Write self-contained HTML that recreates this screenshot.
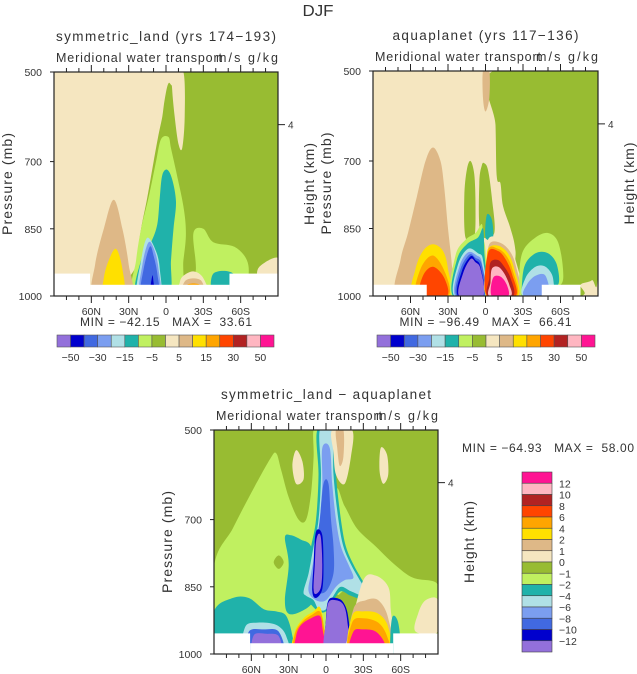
<!DOCTYPE html>
<html><head><meta charset="utf-8">
<style>
html,body{margin:0;padding:0;background:#fff;}
svg{display:block;font-family:"Liberation Sans",sans-serif;}
text{fill:#333;white-space:pre;}
</style></head>
<body>
<svg id="chart" width="637" height="674" viewBox="0 0 637 674" xmlns="http://www.w3.org/2000/svg">
<text x="318" y="16" font-size="16" text-anchor="middle" textLength="31" lengthAdjust="spacingAndGlyphs">DJF</text>
</svg>
<script>
const palette=["#9370db","#0000cd","#4169e1","#7b9ef0","#b0e0e6","#20b2aa","#c0f060","#98bc32","#f5e6c0","#deb887","#ffe000","#ffa500","#ff4500","#b22222","#ffb6c1","#ff1493"];
const xTickLats=[60,30,0,-30,-60];
const xTickLabels=["60N","30N","0","30S","60S"];
const pTicks=[500,700,850,1000];
const barLabels1=["-50","-30","-15","-5","5","15","30","50"];
const barLabels3=["12","10","8","6","4","2","1","0","-1","-2","-4","-6","-8","-10","-12"];

const shapes1=[
[7,[[-14,500],[-90,500],[-90,1000],[26,1000],[24,930],[20,850],[15,780],[10,700],[6,640],[3,600],[1,560],[-2,525],[-6,530]]],
[8,[[-5,500],[-14,500],[-15,600],[-13,670],[-10,660],[-7,600],[-5,540]]],
[6,[[-2,645],[4,650],[8,700],[14,780],[20,850],[24,920],[26,1000],[-10,1000],[-14,920],[-16,860],[-14,800],[-8,720],[-4,670]]],
[6,[[-22,860],[-30,850],[-38,880],[-55,890],[-65,920],[-66,960],[-60,1000],[-20,1000],[-24,940]]],
[8,[[-75,935],[-90,915],[-90,965],[-75,962]]],
[5,[[-1,718],[3,730],[5,780],[7,840],[12,880],[20,920],[24,1000],[-2,1000],[-4,920],[-6,850],[-8,790],[-5,740]]],
[4,[[15,870],[20,920],[23,1000],[5,1000],[5,940],[8,900]]],
[3,[[14,880],[19,930],[21,1000],[5,1000],[6,940],[9,900]]],
[2,[[13,890],[18,940],[20,1000],[6,1000],[7,950],[10,910]]],
[1,[[11,955],[13,1000],[9,1000],[10,970]]],
[9,[[42,785],[50,850],[57,930],[58,1000],[28,1000],[30,930],[35,850]]],
[10,[[40,895],[46,920],[50,960],[50,1000],[34,1000],[35,940]]],
[8,[[-14,955],[-22,945],[-30,960],[-33,1000],[-10,1000],[-11,970]]],
[9,[[-16,965],[-28,965],[-30,1000],[-13,1000]]],
[11,[[-17,975],[-27,975],[-28,1000],[-15,1000]]],
[12,[[-19,985],[-25,985],[-26,1000],[-17,1000]]],
[5,[[-38,950],[-54,950],[-55,1000],[-38,1000]]]
];
const masks1=[[90,61,950],[61,-51,975],[-51,-90,950]];

const shapes2=[
[7,[[-6,500],[-90,500],[-90,940],[-85,965],[-76,975],[-76,1000],[-26,1000],[-24,900],[-20,850],[-14,800],[-12,750],[-9,735],[-8,620]]],
[7,[[16,870],[17,780],[15,720],[12,700],[9,730],[8,800],[9,870]]],
[7,[[4,860],[5,750],[3,710],[1,705],[-2,720],[-5,780],[-7,860]]],
[9,[[2,500],[-3,500],[-3,560],[0,590],[2,560]]],
[9,[[42,670],[48,700],[55,780],[62,860],[68,920],[70,1000],[26,1000],[27,930],[30,850],[33,760],[36,700]]],
[10,[[42,885],[50,900],[56,940],[58,1000],[29,1000],[30,940],[34,900]]],
[11,[[42,910],[52,940],[55,1000],[30,1000],[32,950]]],
[12,[[42,935],[50,955],[52,1000],[31,1000],[33,960]]],
[6,[[3,840],[8,860],[16,875],[24,910],[27,1000],[0,1000],[0,900],[2,870]]],
[5,[[2,850],[6,870],[15,885],[23,920],[26,1000],[1,1000],[1,900]]],
[5,[[-1,820],[-5,830],[-6,870],[0,870]]],
[4,[[14,895],[22,930],[25,1000],[1,1000],[2,920],[6,905]]],
[3,[[14,903],[21,935],[24,1000],[1,1000],[3,925],[7,910]]],
[2,[[13,908],[20,940],[23,1000],[1,1000],[3,930],[8,915]]],
[1,[[12,912],[19,945],[22,1000],[2,1000],[4,935],[8,920]]],
[0,[[12,918],[18,950],[21,1000],[2,1000],[4,940],[8,925]]],
[8,[[-2,875],[-8,868],[-16,880],[-24,920],[-28,1000],[-1,1000],[-1,920]]],
[9,[[-3,885],[-10,880],[-18,895],[-24,930],[-27,1000],[-1,1000],[-1,930]]],
[10,[[-2,895],[-10,888],[-18,905],[-23,940],[-26,1000],[-1,1000],[-1,935]]],
[11,[[-2,900],[-10,895],[-17,912],[-22,945],[-25,1000],[-1,1000]]],
[12,[[-2,905],[-10,900],[-16,918],[-21,950],[-24,1000],[-1,1000]]],
[13,[[-4,925],[-10,920],[-15,935],[-20,960],[-22,1000],[-2,1000],[-3,960]]],
[14,[[-5,940],[-10,935],[-15,950],[-19,975],[-20,1000],[-3,1000],[-4,970]]],
[15,[[-6,960],[-12,957],[-17,975],[-18,1000],[-5,1000]]],
[6,[[-30,900],[-40,870],[-50,860],[-58,880],[-62,940],[-60,975],[-45,975],[-30,1000],[-28,1000],[-27,950]]],
[5,[[-31,935],[-40,905],[-50,905],[-57,930],[-58,975],[-45,975],[-32,1000],[-29,1000]]],
[4,[[-32,960],[-40,935],[-48,935],[-54,960],[-52,1000],[-30,1000]]],
[3,[[-33,975],[-40,955],[-48,955],[-50,1000],[-31,1000]]]
];
const masks2=[[90,47,975],[-45,-76,975]];

const shapes3=[
[6,[[90,805],[75,720],[60,640],[45,565],[40,552],[36,590],[30,650],[22,700],[16,700],[12,640],[10,560],[10,500],[4,500],[2,600],[0,800],[0,1000],[90,1000]]],
[7,[[38,780],[42,795],[38,810],[34,795]]],
[8,[[24,545],[27,580],[24,620],[18,610],[19,570]]],
[6,[[-8,640],[-15,670],[-25,720],[-40,760],[-55,800],[-70,830],[-88,840],[-90,870],[-90,950],[-60,955],[-50,960],[-40,900],[-30,870],[-15,860],[-8,850]]],
[5,[[90,905],[75,875],[62,875],[50,900],[40,905],[32,915],[27,960],[27,1000],[90,1000]]],
[5,[[33,740],[28,735],[20,745],[12,760],[8,820],[10,880],[20,905],[30,910],[33,880],[30,800]]],
[5,[[7,500],[-7,500],[-8,600],[-12,700],[-16,760],[-22,800],[-28,830],[-33,855],[-32,880],[-20,870],[-12,860],[-6,880],[0,905],[6,905],[12,890],[18,875],[20,860],[16,820],[12,760],[8,700],[6,600]]],
[4,[[5,500],[-5,500],[-6,600],[-10,700],[-14,760],[-20,800],[-26,830],[-30,850],[-30,870],[-20,860],[-12,850],[-6,870],[0,900],[6,900],[10,880],[16,870],[18,860],[14,820],[10,760],[6,700],[4,600]]],
[3,[[3,540],[-3,540],[-5,620],[-8,700],[-12,760],[-18,800],[-22,830],[-15,835],[-8,850],[0,880],[8,880],[14,860],[12,820],[8,760],[5,700],[3,620]]],
[2,[[2,620],[-2,620],[-4,700],[-6,760],[-6,820],[0,860],[8,860],[10,820],[8,760],[5,700]]],
[1,[[7,722],[3,735],[2,800],[3,855],[8,875],[11,860],[10,800],[9,745]]],
[0,[[6,732],[4,742],[3,800],[4,850],[8,866],[10,855],[9,800],[8,750]]],
[10,[[5,895],[10,905],[18,920],[25,950],[26,1000],[1,1000],[2,930]]],
[11,[[5,905],[11,912],[19,928],[25,955],[25,1000],[1,1000],[2,935]]],
[15,[[5,915],[12,920],[20,935],[24,960],[24,1000],[2,1000],[3,940]]],
[1,[[-2,880],[-8,875],[-14,885],[-18,920],[-19,1000],[0,1000],[0,920]]],
[0,[[-2,885],[-8,880],[-14,890],[-17,925],[-18,1000],[1,1000],[0,925]]],
[8,[[-30,835],[-40,825],[-50,850],[-52,900],[-53,1000],[-18,1000],[-20,940]]],
[9,[[-22,900],[-32,880],[-42,880],[-50,920],[-52,1000],[-19,1000]]],
[10,[[-21,915],[-30,905],[-42,910],[-50,940],[-51,1000],[-19,1000]]],
[11,[[-21,930],[-30,920],[-42,930],[-49,960],[-50,1000],[-19,1000]]],
[15,[[-22,950],[-30,945],[-40,950],[-47,975],[-47,1000],[-20,1000]]],
[4,[[65,940],[55,930],[40,935],[32,960],[32,1000],[65,1000]]],
[2,[[62,950],[50,945],[38,950],[35,1000],[62,1000]]],
[0,[[58,958],[48,955],[38,960],[37,1000],[58,1000]]],
[5,[[-53,920],[-58,930],[-60,1000],[-52,1000]]],
[8,[[-5,500],[-21,500],[-20,560],[-15,620],[-8,600],[-6,550]]],
[9,[[-8,500],[-14,500],[-14,560],[-11,580],[-9,540]]],
[8,[[-44,540],[-49,555],[-50,600],[-46,620],[-43,590]]],
[8,[[-80,880],[-90,880],[-90,950],[-72,950],[-74,910]]]
];
const masks3=[[90,61,954],[61,-54,976],[-54,-90,954]];

const NS="http://www.w3.org/2000/svg";
const svg=document.getElementById("chart");
function mk(tag,attrs,parent){const e=document.createElementNS(NS,tag);for(const k in attrs)e.setAttribute(k,attrs[k]);(parent||svg).appendChild(e);return e;}
function txt(s,attrs,parent){const e=mk("text",attrs,parent);e.textContent=s;return e;}
function fit(len){return {textLength:len,lengthAdjust:"spacing"};}
function smooth(pts){
  const n=pts.length;let d="M"+pts[0][0].toFixed(1)+","+pts[0][1].toFixed(1);
  for(let i=0;i<n;i++){
    const p0=pts[(i-1+n)%n],p1=pts[i],p2=pts[(i+1)%n],p3=pts[(i+2)%n];
    const c1=[p1[0]+(p2[0]-p0[0])/6,p1[1]+(p2[1]-p0[1])/6];
    const c2=[p2[0]-(p3[0]-p1[0])/6,p2[1]-(p3[1]-p1[1])/6];
    d+="C"+c1[0].toFixed(1)+","+c1[1].toFixed(1)+" "+c2[0].toFixed(1)+","+c2[1].toFixed(1)+" "+p2[0].toFixed(1)+","+p2[1].toFixed(1);
  }
  return d+"Z";
}
let clipId=0;
function panel(cfg){
  const {x0,y0,w,h,bg,shapes,masks,name}=cfg;
  const X=lat=>x0+(90-lat)/180*w;
  const Y=p=>y0+(p-500)/500*h;
  const g=mk("g",{});
  
  
  const cid="clip"+(clipId++);
  const cp=mk("clipPath",{id:cid},g);mk("rect",{x:x0,y:y0,width:w,height:h},cp);
  const inner=mk("g",{"clip-path":"url(#"+cid+")"},g);
  mk("rect",{x:x0,y:y0,width:w,height:h,fill:bg},inner);
  shapes.forEach(s=>{
    const pth=mk("path",{d:smooth(s[1].map(q=>[X(q[0]),Y(q[1])])),fill:palette[s[0]]},inner);
    
    
  });
  masks.forEach(m=>{
    const r=mk("rect",{x:X(m[0]),y:Y(m[2]),width:X(m[1])-X(m[0]),height:Y(1000)-Y(m[2]),fill:"#fff"},inner);
    
    
  });
  const fr=mk("rect",{x:x0,y:y0,width:w,height:h,fill:"none",stroke:"#222","stroke-width":1.2},g);
  
  
  for(let lat=80;lat>=-80;lat-=10){
    const major=lat%30===0;
    const len=major?7:4;const xx=X(lat);
    mk("line",{x1:xx,x2:xx,y1:y0,y2:y0-len,stroke:"#222"},g);
    mk("line",{x1:xx,x2:xx,y1:y0+h,y2:y0+h+len,stroke:"#222"},g);
  }
  xTickLats.forEach((lat,i)=>{
    const t=txt(xTickLabels[i],{x:X(lat),y:y0+h+19,"font-size":10.5,"text-anchor":"middle"},g);
    
    
  });
  pTicks.forEach(p=>{
    mk("line",{x1:x0,x2:x0-4,y1:Y(p),y2:Y(p),stroke:"#222"},g);
    const t=txt(String(p),{x:x0-12,y:Y(p)+4,"font-size":10.5,"text-anchor":"end"},g);
    
    
  });
  const ky=y0+h*0.235;
  mk("line",{x1:x0+w,x2:x0+w+7,y1:ky,y2:ky,stroke:"#222"},g);
  const kt=txt("4",{x:x0+w+10,y:ky+4,"font-size":10},g);
  
  
  const yt=txt("Pressure (mb)",Object.assign({x:0,y:0,"font-size":14,"text-anchor":"middle",transform:"translate("+(x0-42)+","+(y0+h/2)+") rotate(-90)"},fit(102)),g);
  
  
  const ht=txt("Height (km)",Object.assign({x:0,y:0,"font-size":14,"text-anchor":"middle",transform:"translate("+(x0+w+36)+","+(y0+h/2)+") rotate(-90)"},fit(82)),g);
  
  
  const tt=txt(cfg.title,Object.assign({x:x0+w/2,y:y0-31,"font-size":13.5,"text-anchor":"middle"},fit(cfg.titleLen)),g);
  
  
  const st=txt("Meridional water transport",Object.assign({x:x0+2,y:y0-10,"font-size":12.5},fit(166)),g);
  
  
  const ut=txt("m/s g/kg",Object.assign({x:x0+w,y:y0-10,"font-size":12.5,"text-anchor":"end"},fit(62)),g);
  
  
  if(cfg.minmax){
    const mm=txt(cfg.minmax,Object.assign({x:x0+w/2,y:y0+h+30,"font-size":12,"text-anchor":"middle"},fit(172)),g);
    
    
  }
}
function hbar(x0,y0,w,h){
  const g=mk("g",{});
  
  
  const bw=w/16;
  palette.forEach((c,i)=>{
    const r=mk("rect",{x:x0+i*bw,y:y0,width:bw,height:h,fill:c,stroke:"#555","stroke-width":0.6},g);
    
    
  });
  barLabels1.forEach((s,i)=>{
    const t=txt(s.replace("-","\u2212"),{x:x0+(1+2*i)*bw,y:y0+h+14,"font-size":10.5,"text-anchor":"middle"},g);
    
    
  });
}
function vbar(x0,y0,w,h){
  const g=mk("g",{});
  
  
  const bh=h/16;
  palette.slice().reverse().forEach((c,i)=>{
    const r=mk("rect",{x:x0,y:y0+i*bh,width:w,height:bh,fill:c,stroke:"#444","stroke-width":0.6},g);
    
    
  });
  barLabels3.forEach((s,i)=>{
    const t=txt(s.replace("-","\u2212"),{x:x0+w+7,y:y0+(i+1)*bh+4,"font-size":10.5},g);
    
    
  });
}
panel({name:"symmetric-land-panel",x0:54,y0:72,w:224,h:224,bg:palette[8],shapes:shapes1,masks:masks1,title:"symmetric_land (yrs 174\u2212193)",titleLen:220,minmax:"MIN = \u221242.15   MAX =  33.61"});
panel({name:"aquaplanet-panel",x0:373,y0:71,w:225,h:225,bg:palette[8],shapes:shapes2,masks:masks2,title:"aquaplanet (yrs 117\u2212136)",titleLen:186,minmax:"MIN = \u221296.49   MAX =  66.41"});
panel({name:"difference-panel",x0:214,y0:430,w:224,h:224,bg:palette[7],shapes:shapes3,masks:masks3,title:"symmetric_land \u2212 aquaplanet",titleLen:210});
hbar(57,335,217,12);
hbar(377,335,218,12);
vbar(522,472,30,180);
const mm3=txt("MIN = \u221264.93   MAX =  58.00",Object.assign({x:548,y:452,"font-size":12,"text-anchor":"middle"},fit(172)));


</script>
</body></html>
